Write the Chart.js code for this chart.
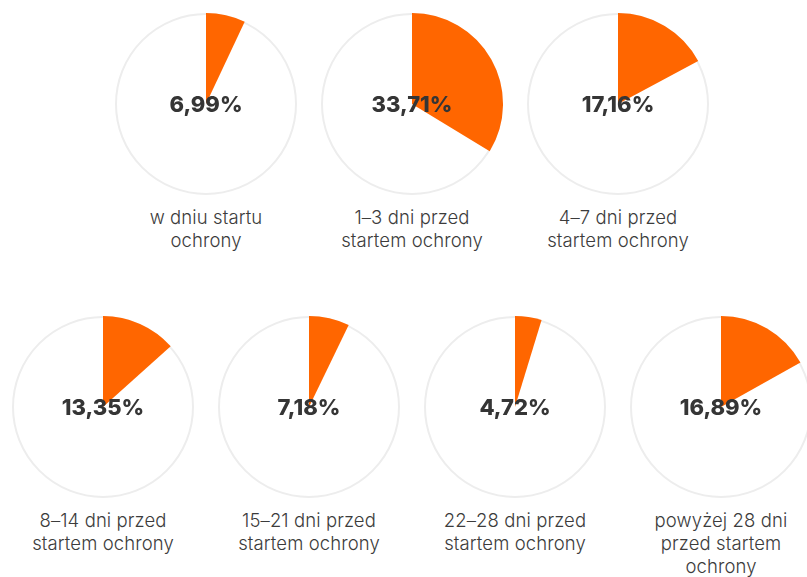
<!DOCTYPE html>
<html>
<head>
<meta charset="utf-8">
<script src="https://cdn.jsdelivr.net/npm/chart.js@4"></script>
<style>
  html, body { margin: 0; padding: 0; background: #fff; }
  body { width: 807px; height: 577px; overflow: hidden; position: relative; font-family: Inter, "Noto Sans", sans-serif; }
  .pie { position: absolute; width: 190px; height: 190px; }
  .cap { position: absolute; width: 220px; text-align: center; font-size: 18.5px; font-weight: 300;
         line-height: 23px; color: #3c3c3c; letter-spacing: 0.1px; }
</style>
</head>
<body>
<script>
// share of bookings by how early they were made before the start of cover
var categories = [
  ["w dniu startu", "ochrony"],
  ["1\u20133 dni przed", "startem ochrony"],
  ["4\u20137 dni przed", "startem ochrony"],
  ["8\u201314 dni przed", "startem ochrony"],
  ["15\u201321 dni przed", "startem ochrony"],
  ["22\u201328 dni przed", "startem ochrony"],
  ["powy\u017cej 28 dni", "przed startem", "ochrony"]
];
var values = [6.99, 33.71, 17.16, 13.35, 7.18, 4.72, 16.89];
var labels = ["6,99%", "33,71%", "17,16%", "13,35%", "7,18%", "4,72%", "16,89%"];

// where each pie sits on the page (centre x, centre y)
var centres = [[206, 104], [412, 104], [618, 104], [103, 407], [309, 407], [515, 407], [721, 407]];

var ringAndLabel = {
  id: 'ringAndLabel',
  beforeDatasetsDraw: function(chart) {
    var arc = chart.getDatasetMeta(0).data[0];
    var ctx = chart.ctx;
    ctx.save();
    ctx.beginPath();
    ctx.arc(arc.x, arc.y, arc.outerRadius - 1, 0, Math.PI * 2);
    ctx.strokeStyle = '#ededed';
    ctx.lineWidth = 2;
    ctx.stroke();
    ctx.restore();
  },
  afterDatasetsDraw: function(chart) {
    var arc = chart.getDatasetMeta(0).data[0];
    var ctx = chart.ctx;
    ctx.save();
    ctx.font = '800 22px Inter, "Noto Sans", sans-serif';
    ctx.fillStyle = '#353535';
    ctx.textAlign = 'center';
    ctx.textBaseline = 'middle';
    ctx.fillText(chart.options.plugins.ringAndLabel.text, arc.x, arc.y + 1);
    ctx.restore();
  }
};

values.forEach(function(v, i) {
  var cx = centres[i][0], cy = centres[i][1];
  var box = document.createElement('div');
  box.className = 'pie';
  box.style.left = (cx - 95) + 'px';
  box.style.top = (cy - 95) + 'px';
  var canvas = document.createElement('canvas');
  canvas.width = 190;
  canvas.height = 190;
  box.appendChild(canvas);
  document.body.appendChild(box);

  var cap = document.createElement('div');
  cap.className = 'cap';
  cap.style.left = (cx - 110) + 'px';
  cap.style.top = (cy + 102) + 'px';
  cap.innerHTML = categories[i].join('<br>');
  document.body.appendChild(cap);

  new Chart(canvas, {
    type: 'pie',
    plugins: [ringAndLabel],
    data: {
      labels: ['', ''],
      datasets: [{
        data: [v, 100 - v],
        backgroundColor: ['#ff6600', 'rgba(255,255,255,0)'],
        borderWidth: 0
      }]
    },
    options: {
      responsive: false,
      animation: false,
      layout: { padding: 4 },
      plugins: {
        legend: { display: false },
        tooltip: { enabled: false },
        ringAndLabel: { text: labels[i] }
      }
    }
  });
});
</script>
</body>
</html>
